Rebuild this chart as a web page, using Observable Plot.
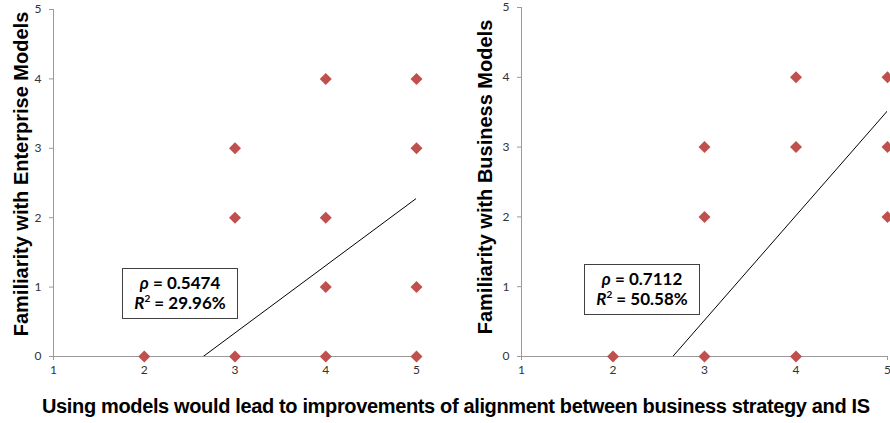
<!DOCTYPE html>
<html>
<head>
<meta charset="utf-8">
<script src="https://cdn.jsdelivr.net/npm/d3@7"></script>
<script src="https://cdn.jsdelivr.net/npm/@observablehq/plot@0.6"></script>
<style>
  html, body { margin: 0; padding: 0; background: white; }
  #wrap { position: relative; width: 890px; height: 423px; overflow: hidden; background: white; }
  #row { display: flex; }
  #row svg { display: block; }
  #row g[aria-label="x-axis tick label"], #row g[aria-label="y-axis tick label"] { font-size: 12px; font-family: Lato, sans-serif; }
  #xtitle { position: absolute; left: 42px; top: 396px; font: bold 20px "Liberation Sans", Arial, sans-serif; line-height: 20px; white-space: nowrap; color: black; }
  .box { position: absolute; box-sizing: border-box; border: 1px solid #404040; background: white;
         font: bold 17px Lato, sans-serif; line-height: 20px; text-align: center; padding-top: 4px; color: black; }
  .box sup { font-size: 10px; line-height: 0; vertical-align: 7px; }
</style>
</head>
<body>
<div id="wrap">
  <div id="row"></div>
  <div id="xtitle"></div>
</div>
<script>
// ---- data ----
const xTicks = [1, 2, 3, 4, 5];
const yTicks = [0, 1, 2, 3, 4, 5];

const enterpriseX = [2, 3, 3, 3, 4, 4, 4, 4, 5, 5, 5, 5];
const enterpriseY = [0, 0, 2, 3, 0, 1, 2, 4, 0, 1, 3, 4];

const businessX = [2, 3, 3, 3, 4, 4, 4, 5, 5, 5];
const businessY = [0, 0, 2, 3, 0, 3, 4, 2, 3, 4];

// fitted trend lines (slope, intercept)
const trendSlopes = [0.97, 1.50];
const trendIntercepts = [-2.57, -3.98];

const rhoValues = ["0.5474", "0.7112"];
const r2Values = ["29.96%", "50.58%"];

const yLabels = ["Familiarity with Enterprise Models", "Familiarity with Business Models"];
const xTitle = "Using models would lead to improvements of alignment between business strategy and IS";

// ---- layout (styles) ----
const panelLayout = [
  {width: 445, marginLeft: 53, marginRight: 29, marginTop: 9, labelDx: -32, labelDy: -9, box: {left: 122, top: 268, width: 116, height: 51}},
  {width: 445, marginLeft: 76, marginRight: 3, marginTop: 7, labelDx: -36, labelDy: -5, box: {left: 584, top: 264, width: 116, height: 51}}
];
const H = 385;
const red = "#c0504d";
const axisGray = "#9a9a9a";

function panel(xs, ys, k) {
  const L = panelLayout[k];
  const pts = xs.map((x, i) => ({x, y: ys[i]}));
  const ends = [xTicks[0], xTicks[xTicks.length - 1]].map(x => ({x, y: trendIntercepts[k] + trendSlopes[k] * x}));
  return Plot.plot({
    width: L.width, height: H,
    marginLeft: L.marginLeft, marginRight: L.marginRight, marginTop: L.marginTop, marginBottom: H - 356,
    x: {domain: [xTicks[0], xTicks[xTicks.length - 1]]},
    y: {domain: [yTicks[0], yTicks[yTicks.length - 1]]},
    style: {fontFamily: "Lato, sans-serif", fontSize: "12px", color: "#333", background: "white", overflow: "visible"},
    marks: [
      Plot.ruleX([xTicks[0]], {stroke: axisGray}),
      Plot.ruleY([yTicks[0]], {stroke: axisGray}),
      Plot.axisX({ticks: xTicks, tickSize: 4, tickPadding: 5, stroke: axisGray, fill: "#333", label: null, tickFormat: d => String(d)}),
      Plot.axisY({ticks: yTicks, tickSize: 4, tickPadding: 8, stroke: axisGray, fill: "#333", label: null, tickFormat: d => String(d)}),
      Plot.line(ends, {x: "x", y: "y", stroke: "black", strokeWidth: 1, clip: true}),
      Plot.dot(pts, {x: "x", y: "y", symbol: "square", rotate: 45, r: 4.8, fill: red, stroke: "none"}),
      Plot.text([yLabels[k]], {frameAnchor: "left", rotate: -90, dx: L.labelDx, dy: L.labelDy,
        textAnchor: "middle", lineAnchor: "middle",
        fontSize: 20, fontWeight: "bold", fontFamily: "Liberation Sans, Arial, sans-serif", fill: "black"})
    ]
  });
}

const row = document.getElementById("row");
row.appendChild(panel(enterpriseX, enterpriseY, 0));
row.appendChild(panel(businessX, businessY, 1));

const wrap = document.getElementById("wrap");
panelLayout.forEach((L, k) => {
  const b = document.createElement("div");
  b.className = "box";
  Object.assign(b.style, {left: L.box.left + "px", top: L.box.top + "px", width: L.box.width + "px", height: L.box.height + "px"});
  b.innerHTML = `<div><i>ρ</i> = ${rhoValues[k]}</div><div><i>R</i><sup>2</sup> = ${r2Values[k]}</div>`;
  wrap.appendChild(b);
});

// x title, tracked to fit the reference width
const xt = document.getElementById("xtitle");
xt.textContent = xTitle;
const ctx = document.createElement("canvas").getContext("2d");
ctx.font = 'bold 20px "Liberation Sans"';
const w = ctx.measureText(xTitle).width;
const targetW = 828;
xt.style.letterSpacing = ((targetW - w) / (xTitle.length - 1)).toFixed(3) + "px";
</script>
</body>
</html>
